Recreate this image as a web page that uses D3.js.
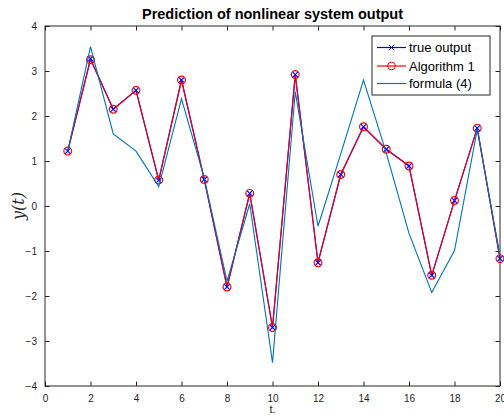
<!DOCTYPE html>
<html><head><meta charset="utf-8">
<script src="https://cdn.jsdelivr.net/npm/d3@7"></script>
<style>body{margin:0;background:#fff;overflow:hidden}svg{display:block}</style>
</head><body>
<script>
const tValues = [1,2,3,4,5,6,7,8,9,10,11,12,13,14,15,16,17,18,19,20];
const trueOutput = [1.22,3.27,2.15,2.57,0.57,2.80,0.59,-1.80,0.28,-2.70,2.92,-1.26,0.70,1.76,1.26,0.89,-1.54,0.12,1.73,-1.17];
const algorithm1 = [1.22,3.25,2.15,2.57,0.58,2.80,0.59,-1.80,0.28,-2.70,2.92,-1.26,0.70,1.76,1.26,0.89,-1.54,0.12,1.73,-1.17];
const formula4 = [1.22,3.54,1.60,1.22,0.43,2.38,0.62,-1.67,0.05,-3.48,2.54,-0.45,1.16,2.80,1.18,-0.61,-1.92,-0.99,1.70,-1.10];
const xTicks = [0,2,4,6,8,10,12,14,16,18,20];
const yTicks = [-4,-3,-2,-1,0,1,2,3,4];
const legendLabels = ["true output","Algorithm 1","formula (4)"];

const W=504,H=418;
const m={l:45,r:500,t:26,b:386};
const svg=d3.select("body").append("svg").attr("width",W).attr("height",H);
const x=d3.scaleLinear().domain([0,20]).range([m.l,m.r]);
const y=d3.scaleLinear().domain([-4,4]).range([m.b,m.t]);
const axisColor="#262626";
const font="Liberation Sans, Arial, Helvetica, sans-serif";

svg.append("rect").attr("x",m.l).attr("y",m.t).attr("width",m.r-m.l).attr("height",m.b-m.t)
  .attr("fill","#fff").attr("stroke",axisColor).attr("stroke-width",1);

function styleAxis(g){
  g.select(".domain").remove();
  g.selectAll("line").attr("stroke",axisColor);
  g.selectAll("text").attr("fill",axisColor).style("font-family",font).style("font-size","10px");
}
svg.append("g").attr("transform",`translate(0,${m.b})`)
  .call(d3.axisBottom(x).tickValues(xTicks).tickSizeInner(-4.5).tickSizeOuter(0).tickPadding(9))
  .call(styleAxis);
svg.append("g").attr("transform",`translate(0,${m.t})`)
  .call(d3.axisTop(x).tickValues(xTicks).tickSizeInner(-4.5).tickSizeOuter(0).tickFormat(""))
  .call(styleAxis);
svg.append("g").attr("transform",`translate(${m.l},0)`)
  .call(d3.axisLeft(y).tickValues(yTicks).tickSizeInner(-4.5).tickSizeOuter(0).tickPadding(8))
  .call(styleAxis);
svg.append("g").attr("transform",`translate(${m.r},0)`)
  .call(d3.axisRight(y).tickValues(yTicks).tickSizeInner(-4.5).tickSizeOuter(0).tickFormat(""))
  .call(styleAxis);

const line=d3.line().x((d,i)=>x(tValues[i])).y(d=>y(d));
const BLUE="#0000ff",RED="#ff0000",CYAN="#0072bd";
const xs=2.7, cr=3.9;

svg.append("path").datum(trueOutput).attr("d",line).attr("fill","none").attr("stroke",BLUE).attr("stroke-width",1.2);
svg.append("path").datum(algorithm1).attr("d",line).attr("fill","none").attr("stroke",RED).attr("stroke-width",1.2).attr("stroke-opacity",0.9);
svg.append("g").selectAll("circle").data(algorithm1).join("circle")
  .attr("cx",(d,i)=>x(tValues[i])).attr("cy",d=>y(d)).attr("r",cr)
  .attr("fill","none").attr("stroke",RED).attr("stroke-width",1.2);
svg.append("g").selectAll("path").data(trueOutput).join("path")
  .attr("d",(d,i)=>{const cx=x(tValues[i]),cy=y(d);return `M${cx-xs},${cy-xs}L${cx+xs},${cy+xs}M${cx-xs},${cy+xs}L${cx+xs},${cy-xs}`;})
  .attr("stroke",BLUE).attr("stroke-width",1.1).attr("fill","none");
svg.append("path").datum(formula4).attr("d",line).attr("fill","none").attr("stroke",CYAN).attr("stroke-width",1.1);

svg.append("text").attr("x",(m.l+m.r)/2).attr("y",19).attr("text-anchor","middle")
  .style("font-family",font).style("font-size","14.5px").style("font-weight","bold").attr("fill","#000")
  .text("Prediction of nonlinear system output");
svg.append("text").attr("x",(m.l+m.r)/2).attr("y",413).attr("text-anchor","middle")
  .style("font-family",font).style("font-size","11px").attr("fill",axisColor).text("t.");
svg.append("text").attr("transform",`translate(24,${y(0)}) rotate(-90)`).attr("text-anchor","middle")
  .style("font-family","DejaVu Serif, Liberation Serif, serif").style("font-style","italic").style("font-size","16px")
  .attr("fill",axisColor).text("y(t)");

const lg=svg.append("g");
lg.append("rect").attr("x",372).attr("y",36).attr("width",118).attr("height",59)
  .attr("fill","#fff").attr("stroke",axisColor).attr("stroke-width",1);
const rowY=[47.5,66,83.5];
const colors=[BLUE,RED,CYAN];
legendLabels.forEach((lab,i)=>{
  lg.append("line").attr("x1",377).attr("x2",406).attr("y1",rowY[i]).attr("y2",rowY[i]).attr("stroke",colors[i]).attr("stroke-width",1.2);
  if(i===0){
    const cx=391.5,cy=rowY[i];
    lg.append("path").attr("d",`M${cx-xs},${cy-xs}L${cx+xs},${cy+xs}M${cx-xs},${cy+xs}L${cx+xs},${cy-xs}`).attr("stroke",BLUE).attr("fill","none");
  } else if(i===1){
    lg.append("circle").attr("cx",391.5).attr("cy",rowY[i]).attr("r",cr).attr("fill","none").attr("stroke",RED);
  }
  lg.append("text").attr("x",409).attr("y",rowY[i]+4.5).style("font-family",font).style("font-size","13px")
    .attr("fill","#000").text(lab);
});
</script>
</body></html>
